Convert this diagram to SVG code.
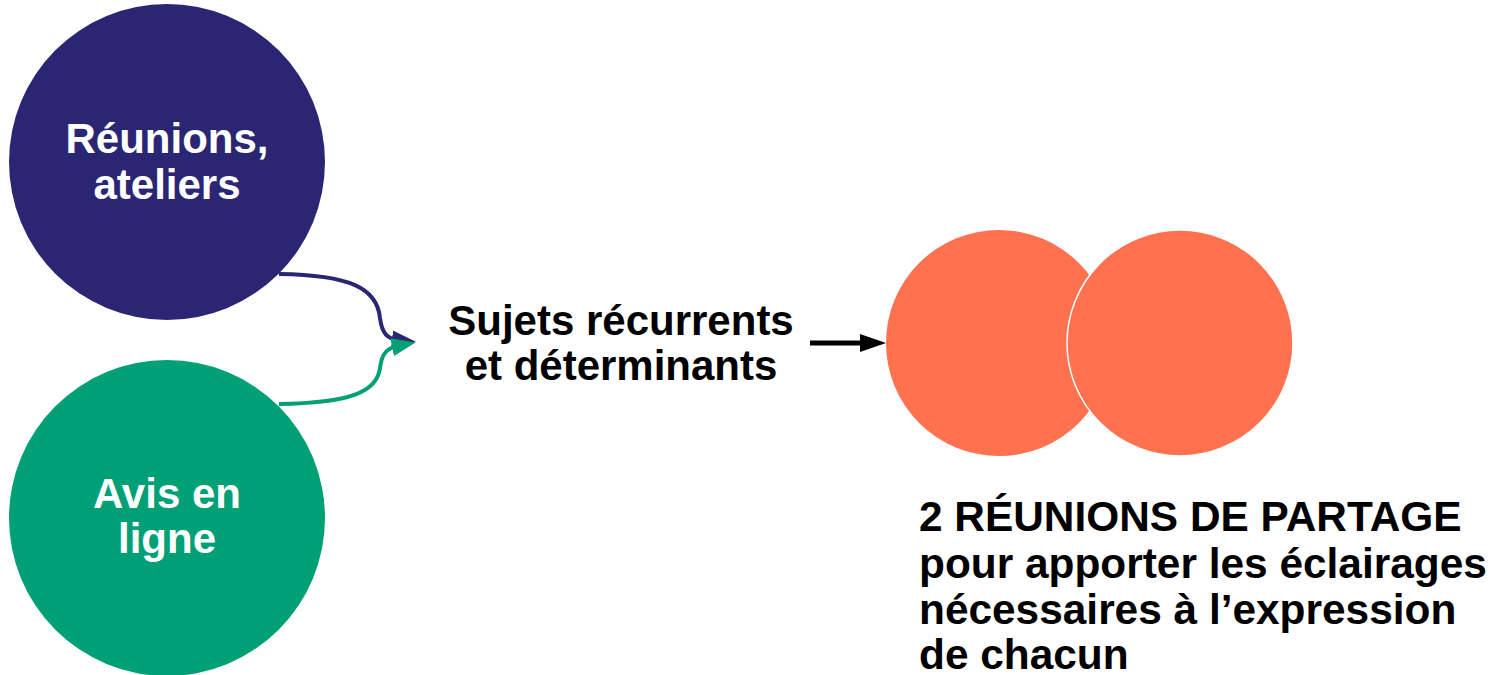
<svg xmlns="http://www.w3.org/2000/svg" width="1493" height="675" viewBox="0 0 1493 675">
<style>
text{font-family:"Liberation Sans",Arial,sans-serif;font-weight:bold;font-size:42px}
.w{fill:#ffffff}
.k{fill:#000000}
.c{text-anchor:middle}
.orange{fill:#ff714f}
.big{font-size:42.4px}
</style>
<defs>
<marker id="mNavy" markerUnits="userSpaceOnUse" markerWidth="26" markerHeight="20" refX="6" refY="9" orient="auto">
<path d="M0,0 L24,9 L0,18 z" fill="#2a2673"/>
</marker>
<marker id="mGreen" markerUnits="userSpaceOnUse" markerWidth="26" markerHeight="20" refX="6" refY="9" orient="auto">
<path d="M0,0 L24,9 L0,18 z" fill="#00a077"/>
</marker>
<marker id="mBlack" markerUnits="userSpaceOnUse" markerWidth="28" markerHeight="20" refX="2" refY="9" orient="auto">
<path d="M0,0 L26,9 L0,18 z" fill="#000"/>
</marker>
</defs>
<rect width="1493" height="675" fill="#ffffff"/>
<g id="connectors">
<path d="M279,274 C350,275 377,288 380,318 C382,334 388,339 398,340" fill="none" stroke="#2a2673" stroke-width="4" marker-end="url(#mNavy)"/>
<path d="M279,404 C350,403 377,392 380,368 C382,352 388,348 398,346" fill="none" stroke="#00a077" stroke-width="4" marker-end="url(#mGreen)"/>
<path d="M810,343 L862,343" fill="none" stroke="#000" stroke-width="5" marker-end="url(#mBlack)"/>
</g>
<g id="reunions">
<circle cx="167" cy="162" r="158" fill="#2a2673"/>
<text class="w c" x="167" y="153">Réunions,</text>
<text class="w c" x="167" y="199">ateliers</text>
</g>
<g id="avis">
<circle cx="167" cy="518" r="158" fill="#00a077"/>
<text class="w c" x="167" y="508">Avis en</text>
<text class="w c" x="167" y="553">ligne</text>
</g>
<g id="sujets">
<text class="k c" x="621" y="335">Sujets récurrents</text>
<text class="k c" x="621" y="380">et déterminants</text>
</g>
<g id="partage">
<circle class="orange" cx="999" cy="343" r="113"/>
<circle class="orange" cx="1180" cy="343" r="113" stroke="#ffffff" stroke-width="1.5"/>
<text class="k big" x="919" y="531">2 RÉUNIONS DE PARTAGE</text>
<text class="k big" x="919" y="578">pour apporter les éclairages</text>
<text class="k big" x="919" y="624">nécessaires à l’expression</text>
<text class="k big" x="919" y="669">de chacun</text>
</g>
</svg>
